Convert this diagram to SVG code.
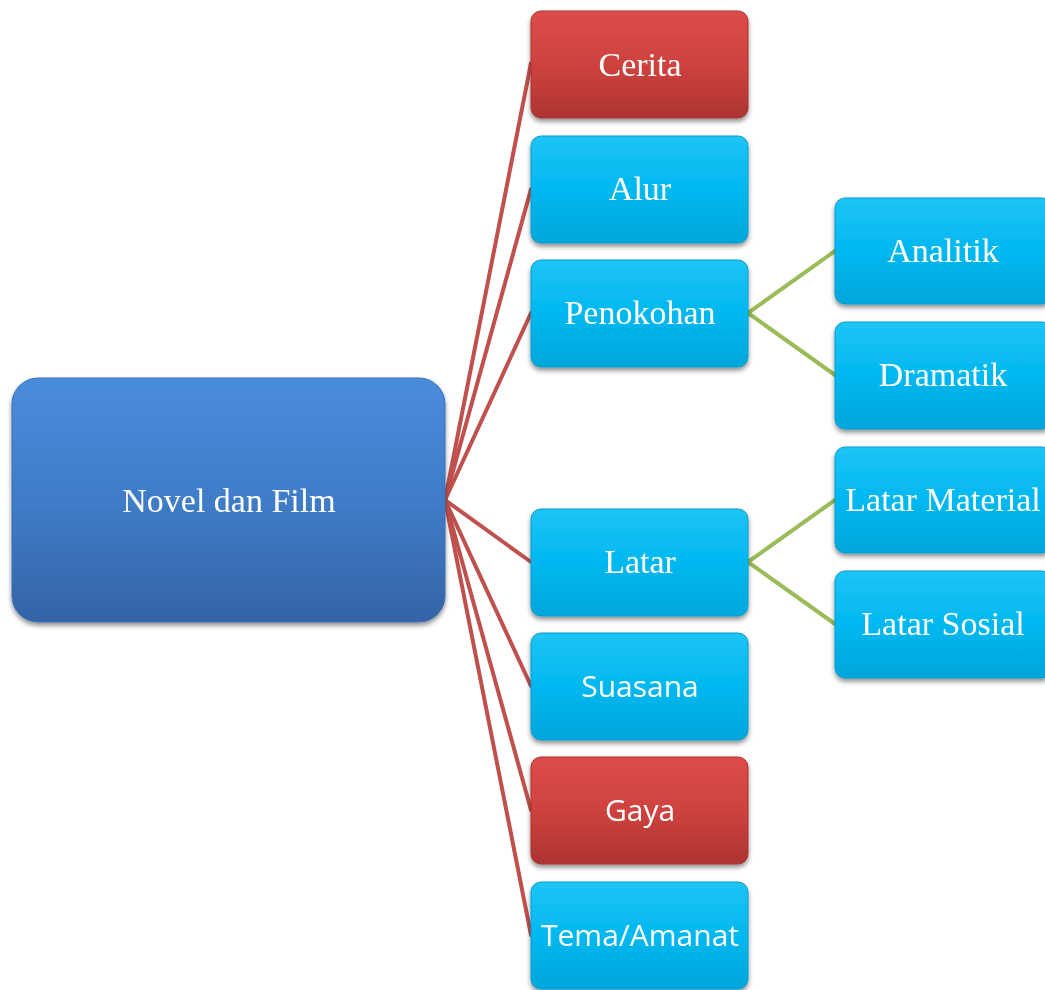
<svg xmlns="http://www.w3.org/2000/svg" width="1045" height="990" viewBox="0 0 1045 990">
<defs>
<linearGradient id="gBlue" x1="0" y1="0" x2="0" y2="1">
<stop offset="0" stop-color="#4a8cdc"/><stop offset="0.5" stop-color="#3f7cc8"/><stop offset="1" stop-color="#3564a6"/>
</linearGradient>
<linearGradient id="gCyan" x1="0" y1="0" x2="0" y2="1">
<stop offset="0" stop-color="#1ec4f6"/><stop offset="0.5" stop-color="#00b8f0"/><stop offset="1" stop-color="#00a6dc"/>
</linearGradient>
<linearGradient id="gRed" x1="0" y1="0" x2="0" y2="1">
<stop offset="0" stop-color="#dc4c48"/><stop offset="0.5" stop-color="#cf423e"/><stop offset="1" stop-color="#ad3430"/>
</linearGradient>
<filter id="sh" x="-10%" y="-10%" width="120%" height="130%">
<feGaussianBlur in="SourceAlpha" stdDeviation="2.5"/>
<feOffset dx="0" dy="3" result="b"/>
<feComponentTransfer><feFuncA type="linear" slope="0.45"/></feComponentTransfer>
<feMerge><feMergeNode/><feMergeNode in="SourceGraphic"/></feMerge>
</filter>
</defs>
<style>
.box{filter:url(#sh);}
.cy{fill:url(#gCyan);stroke:#0a9ccc;stroke-width:1;}
.rd{fill:url(#gRed);stroke:#a83431;stroke-width:1;}
.bl{fill:url(#gBlue);stroke:#3a6fb0;stroke-width:1;}
.hl{fill:none;stroke:#ffffff;stroke-opacity:0.35;stroke-width:2;}
.ts{font-family:"Liberation Serif","Times New Roman",serif;font-size:34px;fill:#ffffff;text-anchor:middle;}
.tn{font-family:"Open Sans","Liberation Sans",sans-serif;font-size:30px;fill:#ffffff;text-anchor:middle;}
.red{stroke:#c0504d;stroke-width:4;fill:none;stroke-linecap:round;}
.grn{stroke:#9bbb59;stroke-width:4;fill:none;stroke-linecap:round;}
</style>
<g id="connectors">
<line class="red" x1="445" y1="500" x2="531" y2="63"/>
<line class="red" x1="445" y1="500" x2="531" y2="189"/>
<line class="red" x1="445" y1="500" x2="531" y2="313"/>
<line class="red" x1="445" y1="500" x2="531" y2="562"/>
<line class="red" x1="445" y1="500" x2="531" y2="686"/>
<line class="red" x1="445" y1="500" x2="531" y2="810"/>
<line class="red" x1="445" y1="500" x2="531" y2="935"/>
<line class="grn" x1="748" y1="313" x2="835" y2="251"/>
<line class="grn" x1="748" y1="313" x2="835" y2="375"/>
<line class="grn" x1="748" y1="562" x2="835" y2="500"/>
<line class="grn" x1="748" y1="562" x2="835" y2="624"/>
</g>
<g id="node-novel" class="box"><rect class="bl" x="12" y="378" width="433" height="244" rx="26"/><text class="ts" x="229" y="512">Novel dan Film</text></g>
<g id="node-cerita" class="box"><rect class="rd" x="531" y="11" width="217" height="107" rx="10"/><text class="ts" x="640" y="76">Cerita</text></g>
<g id="node-alur" class="box"><rect class="cy" x="531" y="136" width="217" height="107" rx="10"/><text class="ts" x="640" y="200">Alur</text></g>
<g id="node-penokohan" class="box"><rect class="cy" x="531" y="260" width="217" height="107" rx="10"/><text class="ts" x="640" y="324">Penokohan</text></g>
<g id="node-latar" class="box"><rect class="cy" x="531" y="509" width="217" height="107" rx="10"/><text class="ts" x="640" y="573">Latar</text></g>
<g id="node-suasana" class="box"><rect class="cy" x="531" y="633" width="217" height="107" rx="10"/><text class="tn" x="640" y="697">Suasana</text></g>
<g id="node-gaya" class="box"><rect class="rd" x="531" y="757" width="217" height="107" rx="10"/><text class="tn" x="640" y="821">Gaya</text></g>
<g id="node-tema" class="box"><rect class="cy" x="531" y="882" width="217" height="107" rx="10"/><text class="tn" x="640" y="946">Tema/Amanat</text></g>
<g id="node-analitik" class="box"><rect class="cy" x="835" y="198" width="217" height="106" rx="10"/><text class="ts" x="943" y="262">Analitik</text></g>
<g id="node-dramatik" class="box"><rect class="cy" x="835" y="322" width="217" height="107" rx="10"/><text class="ts" x="943" y="386">Dramatik</text></g>
<g id="node-material" class="box"><rect class="cy" x="835" y="447" width="217" height="106" rx="10"/><text class="ts" x="943" y="511">Latar Material</text></g>
<g id="node-sosial" class="box"><rect class="cy" x="835" y="571" width="217" height="107" rx="10"/><text class="ts" x="943" y="635">Latar Sosial</text></g>
</svg>
